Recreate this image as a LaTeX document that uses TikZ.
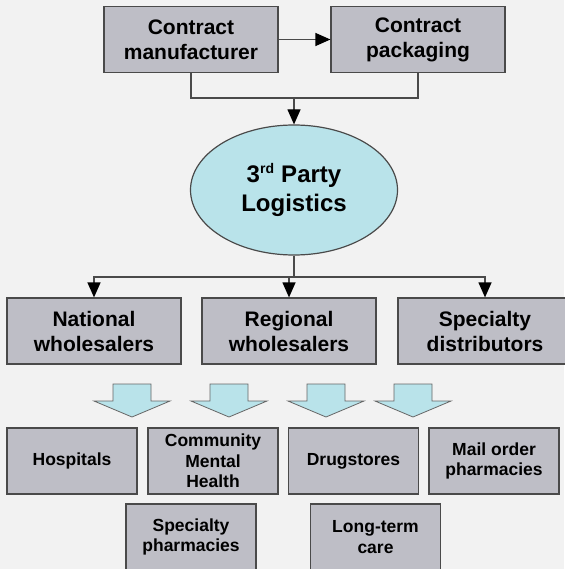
\documentclass[tikz,border=0pt]{standalone}
\usepackage{fontspec}
\setmainfont{Liberation Sans}
\usetikzlibrary{arrows.meta,shapes.geometric}
\definecolor{boxgrey}{HTML}{BEBEC6}
\definecolor{edgegrey}{HTML}{4A4A4A}
\definecolor{paleblue}{HTML}{B9E3EA}
\definecolor{bggrey}{HTML}{F2F2F2}
\tikzset{
  bigbox/.style={draw=edgegrey, line width=1.2pt, fill=boxgrey, minimum width=174pt, minimum height=66pt, inner sep=0pt, align=center, font=\fontsize{21}{25}\selectfont\bfseries},
  smallbox/.style={bigbox, minimum width=130pt, font=\fontsize{17.5}{20.5}\selectfont\bfseries},
  link/.style={draw=edgegrey, line width=1.2pt},
}
\begin{document}
\begin{tikzpicture}[x=1pt,y=-1pt,>={Triangle[length=15pt,width=13pt,color=black]}]
           \fill[bggrey] (0,0) rectangle (564,569);
           \useasboundingbox (0,0) rectangle (564,569);
           % suppliers
           \node[bigbox] (manuf) at (191,39.5) {Contract\\manufacturer};
           \node[bigbox] (pack) at (418,39.5) {Contract\\packaging};
           \node[draw=edgegrey, line width=1.2pt, fill=paleblue, ellipse, inner sep=0pt, minimum width=207pt, minimum height=130pt, align=center, font=\fontsize{24}{29}\selectfont\bfseries] (logist) at (294,190) {3\textsuperscript{\fontsize{14}{14}\selectfont rd} Party\\Logistics};
           \coordinate (merge) at (294,98);
           \coordinate (split) at (294,277);
           \draw[link,->] (manuf) -- (pack);
           \draw[link] (manuf.south) |- (merge) -| (pack.south);
           \draw[link,->] (merge) -- (logist.north);
           % distributors
           \node[bigbox] (nat) at (94,331) {National\\wholesalers};
           \node[bigbox] (reg) at (289,331) {Regional\\wholesalers};
           \node[bigbox] (spec) at (485,331) {Specialty\\distributors};
           \draw[link] (logist.south) -- (split);
           \draw[link,->] (split) -| (nat.north);
           \draw[link,->] (split) -| (spec.north);
           \draw[link,->] (split -| reg.north) -- (reg.north);
           % block arrows
           \foreach \cx in {132,229,326,413}
               \draw[fill=paleblue, draw=gray!80!black, line width=.8pt] (\cx-19,384) -- (\cx+19,384) -- (\cx+19,401) -- (\cx+38,401) -- (\cx,417) -- (\cx-38,401) -- (\cx-19,401) -- cycle;
           % customers
           \node[smallbox] (hosp) at (72,461) {Hospitals};
           \node[smallbox] (commun) at (213,461) {Community\\Mental\\Health};
           \node[smallbox] (drug) at (353.5,461) {Drugstores};
           \node[smallbox] (mail) at (494,461) {Mail order\\pharmacies};
           \node[smallbox] (specpharm) at (191,537) {Specialty\\pharmacies};
           \node[smallbox] (longterm) at (375.5,537) {Long-term\\care};
       \end{tikzpicture}
\end{document}
